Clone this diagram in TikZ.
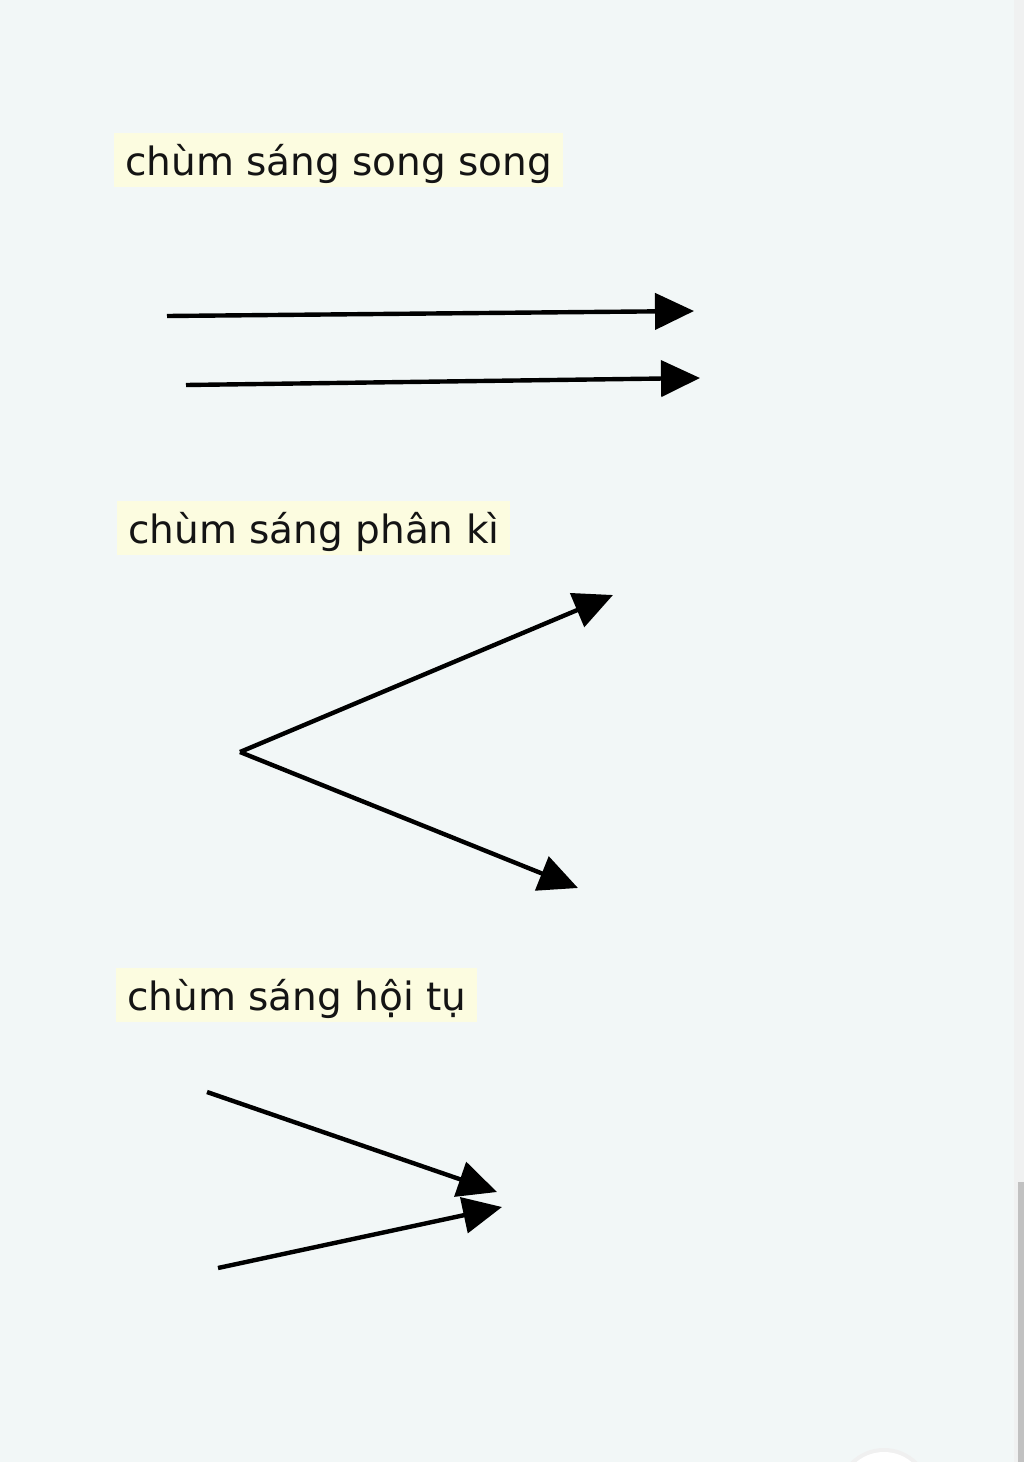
\documentclass[tikz,border=0pt]{standalone}
\usepackage{fontspec}
\setmainfont{DejaVu Sans}
\usetikzlibrary{arrows.meta}
\definecolor{bgcol}{RGB}{242,247,247}
\definecolor{labelbg}{RGB}{252,252,224}
\definecolor{barbg}{RGB}{240,241,241}
\definecolor{thumb}{RGB}{193,193,193}
\definecolor{inkcol}{RGB}{20,20,20}
\tikzset{
  beamlabel/.style={anchor=base west, fill=labelbg, text=inkcol,
    font=\fontsize{39}{47}\selectfont, text height=39pt, text depth=9pt,
    inner xsep=11pt, inner ysep=3pt},
  ray/.style={line width=4.4pt, draw=black,
    -{Triangle[length=39pt,width=36pt]}},
}
\begin{document}
\begin{tikzpicture}[x=1pt,y=-1pt]
\useasboundingbox (0,0) rectangle (1024,1462);
\fill[bgcol] (0,0) rectangle (1024,1462);
% scrollbar area and page widget
\fill[barbg] (1014,0) rectangle (1024,1462);
\fill[thumb] (1018,1182) rectangle (1024,1462);
\begin{scope}
\clip (0,0) rectangle (1014,1462);
\fill[black!6] (884,1495) circle (47);
\fill[white] (884,1495) circle (43);
\end{scope}
% labels
\node[beamlabel] (lab1) at (114,175) {chùm sáng song song};
\node[beamlabel] (lab2) at (117,543) {chùm sáng phân kì};
\node[beamlabel] (lab3) at (116,1010) {chùm sáng hội tụ};
% parallel beam
\coordinate (p1s) at (167,316);
\coordinate (p1e) at (694,311);
\coordinate (p2s) at (186,385);
\coordinate (p2e) at (700,378);
\draw[ray] (p1s) -- (p1e);
\draw[ray] (p2s) -- (p2e);
% diverging beam
\coordinate (dapex) at (240,752);
\coordinate (d1e) at (613,595);
\coordinate (d2e) at (578,888);
\draw[ray] (dapex) -- (d1e);
\draw[ray] (dapex) -- (d2e);
% converging beam
\coordinate (c1s) at (207,1092);
\coordinate (c1e) at (497,1192);
\coordinate (c2s) at (218,1268);
\coordinate (c2e) at (502,1207);
\draw[ray] (c1s) -- (c1e);
\draw[ray] (c2s) -- (c2e);
\end{tikzpicture}
\end{document}
